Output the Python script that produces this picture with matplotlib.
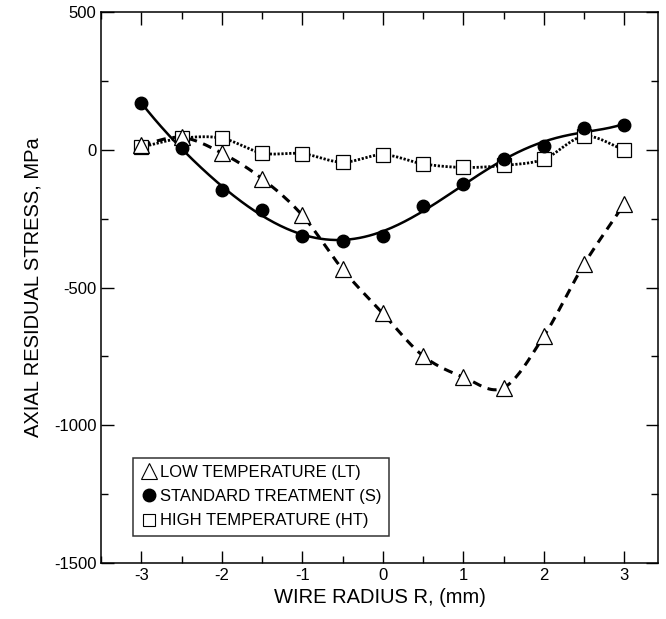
import matplotlib

matplotlib.use("Agg")
import matplotlib.pyplot as plt
import numpy as np
from matplotlib.lines import Line2D
from matplotlib.ticker import MultipleLocator

plt.rcParams["font.family"] = ["Liberation Sans", "DejaVu Sans"]
plt.rcParams["axes.unicode_minus"] = False

# wire radius positions (mm)
radius = [-3, -2.5, -2, -1.5, -1, -0.5, 0, 0.5, 1, 1.5, 2, 2.5, 3]

# axial residual stress (MPa)
stress_lt = [18, 45, -12, -105, -238, -434, -594, -748, -825, -864, -677, -416, -197]
stress_s = [170, 6, -145, -220, -312, -330, -312, -205, -125, -35, 12, 78, 91]
stress_ht = [10, 42, 42, -12, -14, -45, -18, -51, -64, -57, -34, 49, 0]

labels = ["LOW TEMPERATURE (LT)", "STANDARD TREATMENT (S)", "HIGH TEMPERATURE (HT)"]


def catmull_rom(x, y, n=20):
    x = np.asarray(x, float)
    y = np.asarray(y, float)
    px = np.concatenate([[2 * x[0] - x[1]], x, [2 * x[-1] - x[-2]]])
    py = np.concatenate([[2 * y[0] - y[1]], y, [2 * y[-1] - y[-2]]])
    xs, ys = [], []
    t = np.linspace(0, 1, n, endpoint=False)
    for i in range(1, len(px) - 2):
        for arr, out in ((px, xs), (py, ys)):
            p0, p1, p2, p3 = arr[i - 1], arr[i], arr[i + 1], arr[i + 2]
            out.append(0.5 * (2 * p1 + (-p0 + p2) * t
                              + (2 * p0 - 5 * p1 + 4 * p2 - p3) * t ** 2
                              + (-p0 + 3 * p1 - 3 * p2 + p3) * t ** 3))
    xs.append([x[-1]])
    ys.append([y[-1]])
    return np.concatenate(xs), np.concatenate(ys)


fig = plt.figure(figsize=(6.66, 6.19), dpi=100)
ax = fig.add_axes([0.152, 0.0905, 0.836, 0.890])

# smooth curves
xl, yl = catmull_rom(radius, stress_lt)
ax.plot(xl, yl, color="black", linestyle=(0, (3, 2.2)), linewidth=2.2, zorder=2)

coef = np.polyfit(radius, stress_s, 6)
xs = np.linspace(radius[0], radius[-1], 300)
ax.plot(xs, np.polyval(coef, xs), color="black", linewidth=1.8, zorder=2)

xh, yh = catmull_rom(radius, stress_ht)
ax.plot(xh, yh, color="black", linestyle=(0, (0.8, 0.6)), linewidth=2.0, zorder=2)

# markers
ax.plot(radius, stress_ht, linestyle="none", marker="s", markersize=10,
        markerfacecolor="white", markeredgecolor="black", markeredgewidth=0.9, zorder=3)
ax.plot(radius, stress_lt, linestyle="none", marker="^", markersize=12,
        markerfacecolor="white", markeredgecolor="black", markeredgewidth=0.9, zorder=4)
ax.plot(radius, stress_s, linestyle="none", marker="o", markersize=9,
        markerfacecolor="black", markeredgecolor="black", zorder=5)

ax.set_xlim(-3.5, 3.42)
ax.set_ylim(-1500, 500)
ax.xaxis.set_major_locator(MultipleLocator(1))
ax.xaxis.set_minor_locator(MultipleLocator(0.5))
ax.yaxis.set_major_locator(MultipleLocator(500))
ax.yaxis.set_minor_locator(MultipleLocator(250))
ax.tick_params(which="both", direction="in", top=True, right=True, labelsize=12)
ax.tick_params(which="major", length=9, width=1)
ax.tick_params(which="minor", length=5, width=1)
for spine in ax.spines.values():
    spine.set_linewidth(1.1)

ax.set_xlabel("WIRE RADIUS R, (mm)", fontsize=14.5, labelpad=4)
ax.set_ylabel("AXIAL RESIDUAL STRESS, MPa", fontsize=14.5, labelpad=8)

handles = [
    Line2D([], [], linestyle="none", marker="^", markersize=11,
           markerfacecolor="white", markeredgecolor="black", markeredgewidth=0.8),
    Line2D([], [], linestyle="none", marker="o", markersize=9,
           markerfacecolor="black", markeredgecolor="black"),
    Line2D([], [], linestyle="none", marker="s", markersize=9,
           markerfacecolor="white", markeredgecolor="black", markeredgewidth=0.8),
]
leg = ax.legend(handles, labels, loc="lower left", bbox_to_anchor=(0.057, 0.049),
                fontsize=12, frameon=True, fancybox=False, edgecolor="black",
                handletextpad=0.2, handlelength=1.0, borderpad=0.45, labelspacing=0.55,
                borderaxespad=0)
leg.get_frame().set_linewidth(1.1)

fig.savefig("out.png", dpi=100)
